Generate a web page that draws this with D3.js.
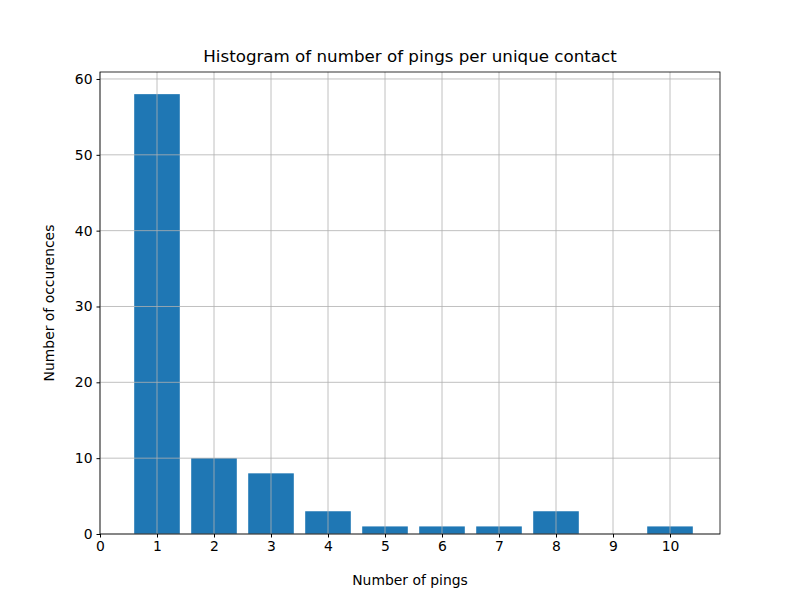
<!DOCTYPE html>
<html><head><meta charset="utf-8">
<script src="https://cdn.jsdelivr.net/npm/d3@7"></script>
<style>body{margin:0;background:#fff}text{font-family:"DejaVu Sans",sans-serif}</style>
</head><body><svg width="800" height="600"></svg>
<script>
const pings = [1, 2, 3, 4, 5, 6, 7, 8, 9, 10];
const counts = [58, 10, 8, 3, 1, 1, 1, 3, 0, 1];
const xTicks = [0, 1, 2, 3, 4, 5, 6, 7, 8, 9, 10];
const yTicks = [0, 10, 20, 30, 40, 50, 60];

const svg = d3.select("svg");
const plotL = 100, plotR = 720, plotT = 72, plotB = 534;
const x = d3.scaleLinear().domain([0, 10.877]).range([plotL, plotR]);
const y = d3.scaleLinear().domain([0, 60.92]).range([plotB, plotT]);

svg.append("g").selectAll("rect").data(counts).enter().append("rect")
    .attr("x", (d, i) => x(pings[i] - 0.4))
    .attr("width", x(0.8) - x(0))
    .attr("y", d => y(d))
    .attr("height", d => y(0) - y(d))
    .attr("fill", "#1f77b4");

const grid = svg.append("g").attr("stroke", "#b0b0b0").attr("stroke-width", 0.8);
xTicks.forEach(t => grid.append("line").attr("x1", x(t)).attr("x2", x(t)).attr("y1", plotT).attr("y2", plotB));
yTicks.forEach(t => grid.append("line").attr("x1", plotL).attr("x2", plotR).attr("y1", y(t)).attr("y2", y(t)));

const xAxisG = svg.append("g").attr("transform", `translate(0,${plotB})`)
    .call(d3.axisBottom(x).tickValues(xTicks).tickSize(3.5).tickPadding(4));
const yAxisG = svg.append("g").attr("transform", `translate(${plotL},0)`)
    .call(d3.axisLeft(y).tickValues(yTicks).tickSize(3.5).tickPadding(4));
[xAxisG, yAxisG].forEach(g => {
    g.select(".domain").remove();
    g.selectAll("text").attr("font-size", 13.9).attr("font-family", "DejaVu Sans").attr("fill", "#000");
    g.selectAll("line").attr("stroke", "#000");
});

svg.append("rect").attr("x", plotL).attr("y", plotT).attr("width", plotR - plotL).attr("height", plotB - plotT)
    .attr("fill", "none").attr("stroke", "#000").attr("stroke-width", 0.8);

svg.append("text").attr("x", 410).attr("y", 62).attr("text-anchor", "middle")
    .attr("font-size", 16.7).text("Histogram of number of pings per unique contact");
svg.append("text").attr("x", 410).attr("y", 585).attr("text-anchor", "middle")
    .attr("font-size", 13.9).text("Number of pings");
svg.append("text").attr("transform", "translate(54,303) rotate(-90)").attr("text-anchor", "middle")
    .attr("font-size", 13.9).text("Number of occurences");
</script></body></html>
